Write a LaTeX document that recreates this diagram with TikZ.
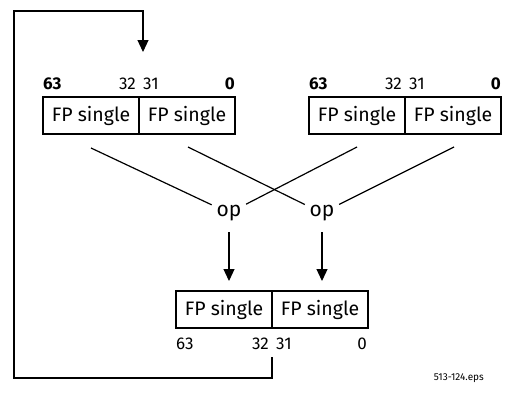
\documentclass[tikz,border=0pt]{standalone}
\usepackage{fontspec}
\setmainfont{Fira Sans}
\usetikzlibrary{arrows.meta}
\tikzset{
  half/.style={draw, line width=2pt, minimum width=96pt, minimum height=37pt, inner sep=0pt, font=\fontsize{19.5}{22}\selectfont},
  bitlbl/.style={inner sep=0pt, font=\fontsize{17}{19}\selectfont},
  boldlbl/.style={bitlbl, font=\fontsize{17}{19}\selectfont\bfseries},
  opnode/.style={circle, minimum size=38pt, inner sep=0pt, font=\fontsize{21}{23}\selectfont},
  conn/.style={line width=1.2pt},
  arr/.style={line width=1.2pt, -{Triangle[width=11pt,length=12pt]}},
}
\begin{document}
\begin{tikzpicture}[x=1pt,y=-1pt]
\useasboundingbox (0,0) rectangle (505,407);
% top boxes
\node[half] (a1) at (91,115.5) {FP single};
\node[half] (a2) at (187,115.5) {FP single};
\node[half] (b1) at (357,115.5) {FP single};
\node[half] (b2) at (453,115.5) {FP single};
% bottom box
\node[half] (c1) at (224,309.5) {FP single};
\node[half] (c2) at (320,309.5) {FP single};
% top labels
\node[boldlbl, anchor=west] (la63) at (43,84) {63};
\node[bitlbl, anchor=east] (la32) at (136,84) {32};
\node[bitlbl, anchor=west] (la31) at (143,84) {31};
\node[boldlbl, anchor=east] (la0) at (235,84) {0};
\node[boldlbl, anchor=west] (lb63) at (309,84) {63};
\node[bitlbl, anchor=east] (lb32) at (402,84) {32};
\node[bitlbl, anchor=west] (lb31) at (409,84) {31};
\node[boldlbl, anchor=east] (lb0) at (501,84) {0};
% bottom labels
\node[bitlbl, anchor=west] (lc63) at (176,344) {63};
\node[bitlbl, anchor=east] (lc32) at (269,344) {32};
\node[bitlbl, anchor=west] (lc31) at (276,344) {31};
\node[bitlbl, anchor=east] (lc0) at (367,344) {0};
% op nodes
\node[opnode] (op1) at (229,213) {op};
\node[opnode] (op2) at (322,213) {op};
% crossing lines
\coordinate (s1) at (91,148);
\coordinate (s2) at (188,147);
\coordinate (s3) at (357,147);
\coordinate (s4) at (454,147);
\draw[conn] (s1) -- (op1);
\draw[conn] (s2) -- (op2);
\draw[conn] (s3) -- (op1);
\draw[conn] (s4) -- (op2);
% arrows down
\draw[arr, shorten >=9pt] (op1) -- (op1 |- c1.north);
\draw[arr, shorten >=9pt] (op2) -- (op2 |- c2.north);
% feedback loop
\coordinate (fb0) at (272,357);
\coordinate (fb1) at (272,378);
\coordinate (fb2) at (14,378);
\coordinate (fb3) at (14,11);
\coordinate (fb4) at (143,11);
\coordinate (fb5) at (143,52);
\draw[arr] (fb0) -- (fb1) -- (fb2) -- (fb3) -- (fb4) -- (fb5);
% file label
\node[inner sep=0pt, font=\fontsize{10}{12}\selectfont, anchor=east] (eps) at (484,378) {513-124.eps};
\end{tikzpicture}
\end{document}
